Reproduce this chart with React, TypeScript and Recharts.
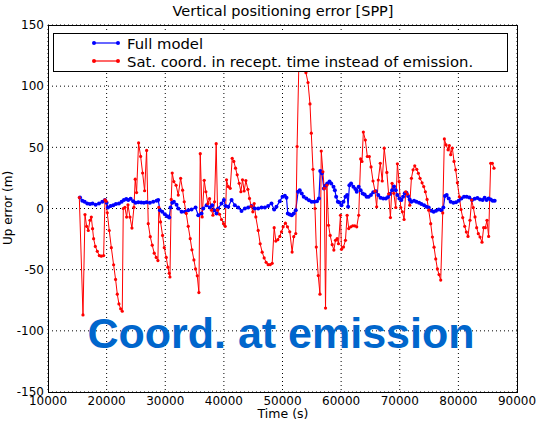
import React from 'react';
import { LineChart, Line, XAxis, YAxis, CartesianGrid } from 'recharts';

// Full model (blue)
const fullTime = [
  15460, 15850, 16250, 16700, 17160, 17600, 18130, 18700, 19260, 19720, 20000, 20230, 20680, 21140, 21590,
  22100, 22560, 22950, 23350, 23690, 24090, 24540, 24940, 25400, 25910, 26360, 26820, 27380, 27950, 28520,
  28800, 29090, 29490, 29940, 30340, 30680, 30900, 31190, 31470, 31930, 32220, 32790, 33350, 33920, 34490,
  35170, 35630, 36190, 36480, 37050, 37610, 38010, 38350, 38750, 39030, 39600, 40000, 40280, 40740, 41310,
  41870, 42440, 43010, 43580, 44150, 44710, 45280, 45850, 46420, 46990, 47550, 48120, 48580, 48970, 49540,
  50000, 50400, 50680, 50900, 51240, 51580, 51920, 52260, 52660, 52940, 53280, 53620, 54070, 54520, 54970,
  55420, 55880, 56210, 56440, 56720, 57060, 57340, 57630, 58020, 58310, 58700, 58930, 59150, 59440, 59720,
  60060, 60400, 60740, 61020, 61190, 61410, 61700, 62090, 62430, 62660, 63000, 63330, 63670, 64010, 64350,
  64690, 65090, 65480, 65930, 66330, 66720, 67180, 67630, 68000, 68300, 68690, 69030, 69320, 69600, 69940,
  70280, 70570, 70850, 71140, 71420, 71700, 71990, 72440, 72840, 73290, 73690, 74150, 74540, 74940, 75400,
  75790, 76190, 76650, 77100, 77440, 77720, 78010, 78350, 78690, 79150, 79600, 80050, 80510, 80960, 81420,
  81870, 82330, 82780, 83240, 83690, 84140, 84480, 84820, 85160, 85510, 85850, 86190,
];
const fullUp = [
  9, 6.3, 5.5, 4, 3.6, 4, 3, 4, 5.5, 7, 4.7, 0.8, 2, 2.7, 3.6,
  4, 5.5, 7, 7.7, 7, 8, 6, 4.7, 5.2, 5, 4.7, 5.2, 4.7, 5.5, 6.3,
  7, -1.4, -2.7, -4.7, -6.3, -7.4, 0.8, 4.7, 5.5, 3, 0, -2.7, -2.7, -1.4, -0.8,
  0.8, -5.5, -4, 0, 2.7, 0.8, 2.7, -1.4, -4, 0, 4, 7, 2, 1.4, 7,
  2.7, 0.8, -2, 0, 0.8, 2, 0, 0, 0.8, 0.8, 2, 4, -0.8, 1.4, 6,
  9.6, 10.4, 8.8, -4, -5, -5.5, -4, -1.4, 13.7, 15, 12.3, 9.6, 8.2, 6.8, 5.5,
  5.5, 6, 8.2, 30.7, 28.8, 16.4, 18.6, 20.5, 22, 20.5, 17.8, 15, 9.6, 5.5, 5,
  2.7, 5.5, 9.6, 11, 1.4, 19, 20.5, 17.8, 15.9, 13.7, 17.8, 15, 12.3, 11.5, 9.6,
  9.6, 11, 13.2, 14.2, 11, 8.8, 8.2, 8.2, 9.5, 11.8, 15, 17.9, 15, 11, 8.2,
  6.9, 9.6, 12.4, 12.9, 10.2, 7.4, 5.5, 6.3, 5.5, 4.7, 3.6, 2.7, 1.4, 0.8, -1.9,
  -2.7, -1.9, -0.8, -1.4, 0.8, 10.2, 11, 8.2, 5.5, 4.7, 5.2, 6.3, 8.2, 9.6, 9.6,
  9, 6.9, 8, 8.5, 7.4, 6.9, 8.8, 6.9, 8.2, 7.4, 6.3, 6.3,
];

// Sat. coord. in reception time (red)
const recTime = [
  15340, 15970, 16310, 16590, 16875, 17160, 17390, 17600, 17780, 18070, 18410, 18750, 19090, 19490, 19720,
  19900, 20110, 20450, 20800, 21190, 21530, 21820, 22100, 22390, 22670, 22840, 23120, 23410, 23640, 23980,
  24320, 24660, 24880, 25110, 25450, 25800, 26140, 26480, 26820, 27100, 27440, 27780, 28120, 28460, 28750,
  28900, 29200, 29540, 29830, 30170, 30450, 30680, 30800, 31020, 31190, 31470, 31850, 32220, 32620, 32960,
  33240, 33580, 33920, 34260, 34550, 34890, 35170, 35460, 35740, 35970, 36300, 36650, 36930, 37270, 37560,
  37900, 38130, 38410, 38690, 38920, 39260, 39600, 39940, 40230, 40450, 40740, 41080, 41420, 41700, 41990,
  42270, 42610, 42900, 43180, 43460, 43750, 44090, 44370, 44660, 44940, 45170, 45450, 45850, 46190, 46530,
  46870, 47210, 47550, 47900, 48240, 48580, 48860, 49200, 49540, 49830, 50110, 50500, 50850, 51240, 51640,
  51920, 52260, 52490, 52800, 53150, 53650, 54000, 54350, 54690, 54910, 55200, 55540, 55760, 56100, 56390,
  56610, 56890, 57120, 57340, 57570, 57850, 58130, 58480, 58760, 59040, 59320, 59550, 59890, 60060, 60400,
  60740, 61020, 61300, 61640, 61980, 62320, 62660, 63000, 63330, 63560, 63790, 64130, 64470, 64820, 65100,
  65440, 65780, 66060, 66340, 66680, 67010, 67350, 67800, 68100, 68410, 68690, 68980, 69320, 69600, 69890,
  70170, 70450, 70740, 71020, 71310, 71700, 71990, 72270, 72560, 72900, 73180, 73460, 73810, 74090, 74370,
  74660, 74940, 75280, 75570, 75850, 76140, 76420, 76700, 76990, 77330, 77610, 77900, 78240, 78460, 78690,
  78970, 79260, 79540, 79830, 80170, 80450, 80740, 81080, 81360, 81640, 81980, 82270, 82550, 82840, 83120,
  83400, 83690, 84030, 84310, 84600, 84880, 85160, 85510, 85790, 86070,
];
const recUp = [
  9, -87, -5, -14.6, -18, -9.6, -7, -16.5, -24.7, -31, -35, -38.5, -39, -38.5, 7,
  6, -3.5, -18, -32, -46, -58, -70, -78, -82, -84, 0, 1, -7, 3, -7,
  -16, 1, 24, 13, 53.6, 42.6, 29, 14.5, 47.5, -12.4, -23, -30, -36.5, -40, -42.6,
  1, -11, -22, -32, -40, -48, -53, -56, 7.4, 29, 22, 19, 11, 24.7, 15,
  5.5, -4, -14.6, -24.7, -33.8, -42, -49.4, -55, -68.7, 44.8, -6.9, 23, 13.7, 4, 8,
  -1.4, -5.5, 5.5, 53, -1.4, -4.7, -9, -12.4, -14.6, 23.4, 17.9, 16.5, 41, 38.5, 33,
  27.5, 20.6, 13.7, 23.4, 14.3, 22.8, 15.7, 8.2, 1.9, -2.7, 4.1, -6.9, -17.9, -28.8, -35.7,
  -40.4, -44, -45.9, -45.9, -44.8, -15.7, -26.6, -25.5, -22.8, -19, -15, -12, -15, -19, -35.6,
  -23, -20.5, 50.7, 120, 126, 120, 111, 103, 85.5, 61.6, 32, 0, -31.5, -54.8, -70,
  47, 30, 16.4, -81.4, 19, -13.7, -22, -29.6, -34, -26, -24.7, -28.8, -5.5, -33.4, -31.5,
  -26, -5.5, -16.4, -15, -14.2, -14.2, -15, -5.5, 40.5, 38.4, 62.5, 56, 42.5, 42.5, 34,
  22.5, 14.2, 1.4, 23.3, 37, 22.5, 49.3, 29.5, 12, -7.4, 20.6, 12.4, 0.8, 36.5, 22,
  0.8, -2.7, -9, 13.7, 11.8, 2.7, 24.7, 31.6, 34.9, 32, 28.8, 24.7, 21, 17.9, 13.7,
  7.4, -1.4, -12.4, -23.3, -31.6, -41.2, -49.4, -54, -58.5, -3.6, 56.9, 52, 48, 51.4, 44,
  49.4, 38.5, 31.6, 21, 9.6, -0.8, -7.4, -14.6, -19.2, -22.8, -9.6, 6.9, 0.8, -6.9, -15.7,
  -20.6, -23.3, -27.5, -15.7, -15.7, -9.6, -22.8, 37, 37, 33,
];

const xTicks = [10000, 20000, 30000, 40000, 50000, 60000, 70000, 80000, 90000];
const yTicks = [-150, -100, -50, 0, 50, 100, 150];

const fullData = fullTime.map((t, i) => ({ t, up: fullUp[i] }));
const recData = recTime.map((t, i) => ({ t, up: recUp[i] }));

const FONT = '"DejaVu Sans", sans-serif';
const tickStyle = { fill: '#000', fontSize: 12, fontFamily: FONT };

const LegendRow = ({ color, label, top }: { color: string; label: string; top: number }) => (
  <div style={{ position: 'absolute', left: 0, top, height: 18, display: 'flex', alignItems: 'center' }}>
    <svg width={70} height={18} style={{ display: 'block' }}>
      <line x1={40} y1={9} x2={64} y2={9} stroke={color} strokeWidth={1.2} />
      <circle cx={40} cy={9} r={2} fill={color} />
      <circle cx={64} cy={9} r={2} fill={color} />
    </svg>
    <span style={{ marginLeft: 3, fontSize: 14.8, fontFamily: FONT, color: '#000', whiteSpace: 'nowrap' }}>{label}</span>
  </div>
);

export default function App() {
  return (
    <div style={{ position: 'absolute', left: 0, top: 0, width: 549, height: 425, background: '#fff' }}>
      <LineChart width={549} height={425} data={recData} margin={{ top: 25, right: 32, left: 0, bottom: 0 }}>
        <CartesianGrid stroke="#000" strokeDasharray="1 3" />
        <XAxis
          type="number"
          dataKey="t"
          domain={[10000, 90000]}
          ticks={xTicks}
          allowDataOverflow
          height={33}
          axisLine={false}
          tickLine={false}
          tickSize={4}
          tickMargin={0}
          tick={tickStyle}
        />
        <YAxis
          type="number"
          domain={[-150, 150]}
          ticks={yTicks}
          allowDataOverflow
          width={48}
          axisLine={false}
          tickLine={false}
          tickSize={4}
          tickMargin={0}
          tick={tickStyle}
        />
        <Line
          data={fullData}
          dataKey="up"
          stroke="#0000ff"
          strokeWidth={1.2}
          dot={{ r: 2, fill: '#0000ff', stroke: 'none' }}
          isAnimationActive={false}
        />
        <Line
          data={recData}
          dataKey="up"
          stroke="#ff0000"
          strokeWidth={1}
          dot={{ r: 1.6, fill: '#ff0000', stroke: 'none' }}
          isAnimationActive={false}
        />
      </LineChart>

      {/* plot frame */}
      <div style={{ position: 'absolute', left: 48, top: 25, width: 470, height: 368, border: '1px solid #000', boxSizing: 'border-box', pointerEvents: 'none' }} />

      {/* legend */}
      <div style={{ position: 'absolute', left: 53, top: 33, width: 455, height: 39, border: '1px solid #000', boxSizing: 'border-box', background: '#fff' }}>
        <LegendRow color="#0000ff" label="Full model" top={0} />
        <LegendRow color="#ff0000" label="Sat. coord. in recept. time instead of emission." top={18} />
      </div>

      {/* title */}
      <div style={{ position: 'absolute', left: 48, width: 470, top: 2, textAlign: 'center', fontSize: 14.5, lineHeight: '18px', fontFamily: FONT, color: '#000' }}>
        Vertical positioning error [SPP]
      </div>

      {/* axis labels */}
      <div style={{ position: 'absolute', left: 48, width: 470, top: 406, textAlign: 'center', fontSize: 12.5, lineHeight: '16px', fontFamily: FONT, color: '#000' }}>
        Time (s)
      </div>
      <div style={{ position: 'absolute', left: 8, top: 208, transform: 'translate(-50%, -50%) rotate(-90deg)', fontSize: 12, lineHeight: '14px', fontFamily: FONT, color: '#000', whiteSpace: 'nowrap' }}>
        Up error (m)
      </div>

      {/* annotation */}
      <div style={{ position: 'absolute', left: 40, width: 482, top: 305, textAlign: 'center', fontSize: 43, fontWeight: 'bold', fontFamily: '"Liberation Sans", Arial, sans-serif', color: '#0066cc', lineHeight: '56px' }}>
        Coord. at emission
      </div>
    </div>
  );
}
